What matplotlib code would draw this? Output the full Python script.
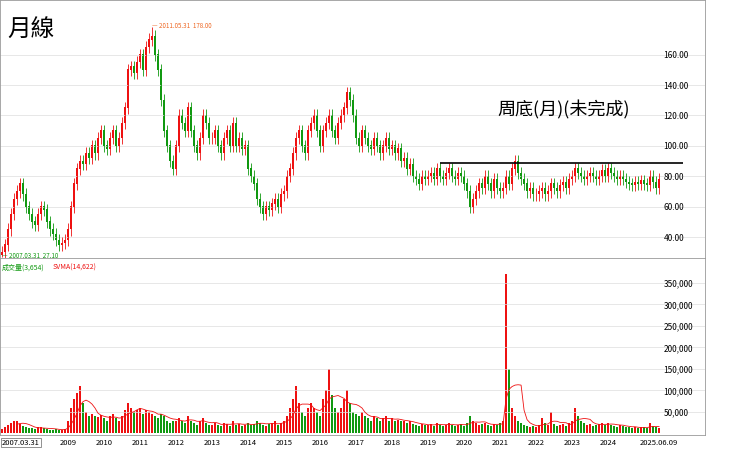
import matplotlib
matplotlib.use("Agg")
import matplotlib.pyplot as plt
import numpy as np

plt.rcParams['font.family'] = ['Noto Sans CJK TC', 'DejaVu Sans']

closes = [30,35,45,55,65,70,75,68,60,55,
 50,48,55,60,58,50,45,42,38,35,36,38,
 45,60,75,85,90,88,95,92,100,95,105,110,
 100,98,105,110,100,105,115,125,150,152,148,155,
 160,150,165,170,172,160,150,130,110,100,90,85,
 100,120,115,110,125,110,100,95,105,120,115,105,
 105,110,100,95,105,110,100,115,100,105,98,100,
 85,80,75,65,60,55,60,58,62,65,60,68,
 70,80,85,95,105,110,100,95,110,115,120,110,
 100,110,115,120,110,105,115,120,125,135,130,120,
 105,100,110,105,100,98,105,100,95,100,105,98,
 100,95,98,90,92,85,88,80,78,75,80,78,
 80,82,78,85,80,78,82,85,80,78,82,80,
 75,70,60,65,70,75,72,80,75,70,78,72,
 70,72,80,75,85,90,82,78,75,70,72,68,
 68,70,72,68,70,75,72,70,74,76,72,78,
 80,85,82,80,78,80,82,80,78,80,84,80,
 85,82,80,78,80,78,76,75,74,76,75,77,
 75,74,80,76,72,78]
first_open = 28
volumes = [10,15,20,25,30,28,22,18,15,12,
 12,10,14,15,12,10,9,8,10,9,8,10,
 30,60,80,95,110,70,50,40,45,40,38,42,
 35,30,40,45,35,30,40,55,70,60,50,55,
 60,45,55,50,45,40,35,45,40,30,25,28,
 30,35,30,25,40,30,25,20,30,35,25,20,
 20,25,20,18,25,22,18,30,20,22,18,20,
 25,20,22,30,25,20,18,22,25,30,20,25,
 30,40,60,80,110,70,50,40,60,70,60,50,
 40,80,100,150,90,60,50,60,80,100,70,50,
 45,40,50,40,35,30,40,35,30,35,40,30,
 35,30,32,28,30,25,28,22,20,18,22,20,
 20,22,18,25,20,18,20,25,20,18,20,22,
 18,25,40,30,25,20,22,25,20,18,22,20,
 25,30,370,150,60,40,30,25,20,18,15,18,
 15,20,35,25,20,50,22,18,20,22,18,25,
 30,60,40,30,25,20,22,18,20,22,25,20,
 25,20,18,15,20,18,15,14,12,15,13,14,
 15,12,25,18,14,12]

n = len(closes)
idx = np.arange(n)
opens = [first_open] + closes[:-1]
c = np.array(closes, float); o = np.array(opens, float)
hi = np.maximum(o, c) + 4; lo = np.minimum(o, c) - 4
hi[50] = 178; lo[0] = 27.1
up = c >= o
RED, GREEN = '#ee1111', '#119911'

fig = plt.figure(figsize=(7.4, 4.49), dpi=100)
ax1 = fig.add_axes([0, 191/449, 705/740, 258/449])
ax2 = fig.add_axes([0, 14/449, 705/740, 177/449])
xl = (-0.67, 234.3)
for ax in (ax1, ax2):
    ax.set_xlim(*xl)
    ax.yaxis.tick_right()
    ax.tick_params(axis='y', labelsize=6, length=0, pad=-30)
    ax.set_xticks([])
    for s in ax.spines.values():
        s.set_color('#999999'); s.set_linewidth(0.6)
    ax.grid(axis='y', color='#dddddd', lw=0.5)

cols = np.where(up, RED, GREEN)
ax1.vlines(idx, lo, hi, colors=cols, lw=0.6)
ax1.bar(idx, np.abs(c - o) + 0.3, bottom=np.minimum(o, c), width=0.7, color=cols)
ax1.set_ylim(26.2, 196)
ax1.set_yticks([40, 60, 80, 100, 120, 140, 160])
ax1.set_yticklabels(['40.00','60.00','80.00','100.00','120.00','140.00','160.00'])
ax1.hlines(88.8, 146, 227, color='black', lw=1.2)
ax1.text(0.01, 0.93, '月線', transform=ax1.transAxes, fontsize=17, va='top')
ax1.text(165, 120, '周底(月)(未完成)', fontsize=13)
ax1.text(50, 179, '— 2011.05.31  178.00', fontsize=4.5, color='#ee6622', va='center')
ax1.text(0, 27.5, '— 2007.03.31  27.10', fontsize=4.5, color='#119911', va='center')

v = np.array(volumes, float)
ax2.bar(idx, v, width=0.6, color=cols)
sma = np.convolve(v, np.ones(6)/6, mode='full')[:n]
sma[:5] = np.nan
ax2.plot(idx, sma, color=RED, lw=0.6)
ax2.set_ylim(-3.5, 408)
yt = [50,100,150,200,250,300,350]
ax2.set_yticks(yt)
ax2.set_yticklabels([f'{t},000' for t in yt])
ax2.text(0.002, 0.97, '成交量(3,654)', transform=ax2.transAxes, fontsize=5, color='#119911', va='top')
ax2.text(0.075, 0.97, 'SVMA(14,622)', transform=ax2.transAxes, fontsize=5, color=RED, va='top')

years = list(range(2009, 2025))
for y in years:
    m = (y - 2007) * 12 - 2
    ax2.text(m, -0.02, str(y), transform=ax2.get_xaxis_transform(), fontsize=5.5, ha='center', va='top')
ax2.text(0, -0.02, '2007.03.31', transform=ax2.get_xaxis_transform(), fontsize=5.5, ha='left', va='top',
         bbox=dict(boxstyle='square,pad=0.1', fc='white', ec='#666666', lw=0.5))
ax2.text(n - 1, -0.02, '2025.06.09', transform=ax2.get_xaxis_transform(), fontsize=5.5, ha='center', va='top')

fig.savefig('out.png', dpi=100)
